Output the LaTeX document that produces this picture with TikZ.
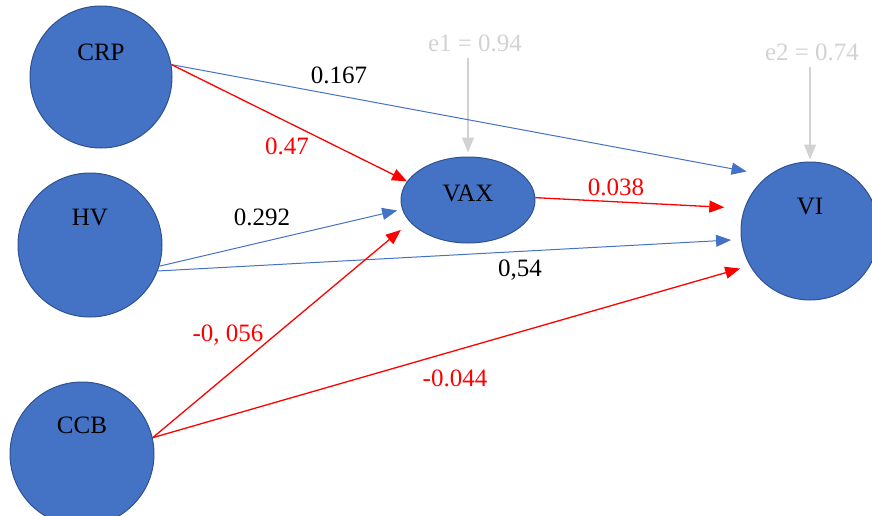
\documentclass[tikz,border=0pt]{standalone}
\usepackage{fontspec}
\setmainfont{Liberation Serif}
\usetikzlibrary{arrows.meta,shapes.geometric}
\definecolor{pathblue}{RGB}{68,114,196}
\definecolor{pathedge}{RGB}{47,82,143}
\definecolor{pathred}{RGB}{255,0,0}
\definecolor{pathgray}{RGB}{210,210,210}

\begin{document}
\begin{tikzpicture}[x=1pt, y=-1pt, >={Triangle[length=15pt,width=12pt]},
  every node/.style={font=\fontsize{25}{30}\selectfont, inner sep=2pt},
  latent/.style={circle, draw=pathedge, line width=1pt, fill=pathblue, inner sep=0pt},
  latentname/.style={yshift=#1},
  bluepath/.style={->, pathblue, line width=1pt},
  redpath/.style={->, pathred, line width=1.3pt},
  errpath/.style={->, pathgray, line width=1.3pt}]
\useasboundingbox (0,0) rectangle (872,516);
\node[latent, minimum size=142pt, label={[latentname=25pt]center:CRP}] (crp) at (101,77) {};
\node[latent, minimum size=144pt, label={[latentname=27pt]center:HV}] (hv) at (90,245) {};
\node[latent, minimum size=144pt, label={[latentname=29pt]center:CCB}] (ccb) at (82,454) {};
\node[latent, ellipse, minimum width=134pt, minimum height=86pt, label={[latentname=7pt]center:VAX}] (vax) at (468,200) {};
\node[latent, minimum size=138pt, label={[latentname=24pt]center:VI}] (vi) at (810,231) {};
\node[text=pathgray] (e1) at (475,43) {e1 = 0.94};
\node[text=pathgray] (e2) at (812,52) {e2 = 0.74};
\draw[errpath, shorten <=4pt, shorten >=4pt] (e1.south -| vax.north) -- (vax.north);
\draw[errpath, shorten <=4pt, shorten >=2pt] (e2.south -| vi.north) -- (vi.north);
\draw[bluepath, shorten >=22pt] (crp.10) -- (vi.127);
\draw[redpath] (crp.10) -- (vax.163);
\draw[bluepath, shorten >=5pt] (hv.-17) -- (vax.188);
\draw[bluepath, shorten >=10pt] (hv.-21) -- (vi.187);
\draw[redpath, shorten >=20pt] (vax.2) -- (vi.161);
\draw[redpath, shorten >=12pt] (ccb.13) -- (vax.201);
\draw[redpath, shorten >=10pt] (ccb.13) -- (vi.210);
\node (w167) at (339,75) {0.167};
\node[text=pathred] (w47) at (287,146) {0.47};
\node (w292) at (262,217) {0.292};
\node (w54) at (520,270) {0,54};
\node[text=pathred] (w038) at (616,187) {0.038};
\node[text=pathred] (w056) at (228,335) {-0, 056};
\node[text=pathred] (w044) at (455,378) {-0.044};
\end{tikzpicture}
\end{document}
